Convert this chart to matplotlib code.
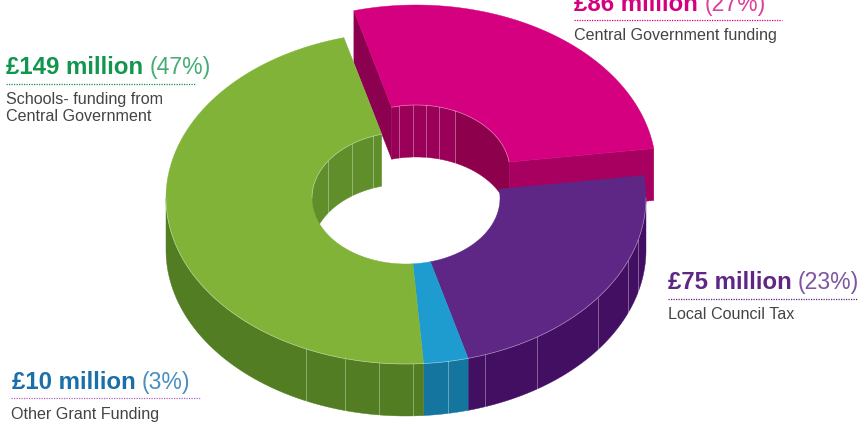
import numpy as np
import matplotlib
matplotlib.use('Agg')
import matplotlib.pyplot as plt

plt.rcParams['font.family'] = ['Liberation Sans', 'DejaVu Sans']

# slices, clockwise from the pink one
names = ['Central Government funding', 'Local Council Tax', 'Other Grant Funding', 'Schools']
percents = [27, 23, 3, 47]
millions = [86, 75, 10, 149]
tops = ['#d5007f', '#5e2785', '#1e9cd0', '#80b338']
outer_walls = ['#a80060', '#420f62', '#14759f', '#527d22']
inner_walls = ['#9a0058', '#420f62', '#14759f', '#5f8e2b']
cut_walls = ['#a80060', '#420f62', '#14759f', '#527d22']

# facet seams on the walls, in degrees
pink_seams = [-10.4, -1.7, 6, 14, 24.5]
green_inner_seams = [-56, -35, -20.5]
green_outer_seams = [178.3, 186.5, 194.7, 204.6]
blue_seams = [170]
purple_seams = [104.8, 112.4, 126.9, 146.9, 160.8]

CX, CY = 406, 198
RX, RY = 240, 166
IRX, IRY = 94, 66
DEPTH = 52
START = -15
PINK_SHIFT = (10, -27)


def arc(cx, cy, rx, ry, a0, a1):
    t = np.radians(np.linspace(a0, a1, max(int(abs(a1 - a0) * 2), 2)))
    return cx + rx * np.sin(t), cy - ry * np.cos(t)


def wall(ax, cx, cy, rx, ry, a0, a1, color):
    # extruded strip under an elliptical edge
    if a1 <= a0:
        return
    x, y = arc(cx, cy, rx, ry, a0, a1)
    ax.fill(np.r_[x, x[::-1]], np.r_[y, y[::-1] + DEPTH], color=color, lw=0.3)
    ax.plot(x, y, color='white', alpha=0.45, lw=0.5)


def seams(ax, cx, cy, rx, ry, angles):
    for a in angles:
        x, y = arc(cx, cy, rx, ry, a, a)
        ax.plot([x[0], x[0]], [y[0], y[0] + DEPTH], color='white', alpha=0.35, lw=0.7)


def cut(ax, cx, cy, a, color):
    x0, y0 = arc(cx, cy, IRX, IRY, a, a)
    x1, y1 = arc(cx, cy, RX, RY, a, a)
    ax.fill([x0[0], x1[0], x1[0], x0[0]],
            [y0[0], y1[0], y1[0] + DEPTH, y0[0] + DEPTH], color=color, lw=0.3)


def top(ax, cx, cy, a0, a1, color):
    xo, yo = arc(cx, cy, RX, RY, a0, a1)
    xi, yi = arc(cx, cy, IRX, IRY, a0, a1)
    ax.fill(np.r_[xo, xi[::-1]], np.r_[yo, yi[::-1]], color=color, lw=0.3)


fig = plt.figure(figsize=(8.63, 4.24), dpi=100)
ax = fig.add_axes([0, 0, 1, 1])
ax.set_xlim(0, 863)
ax.set_ylim(424, 0)
ax.axis('off')

edges = START + np.cumsum([0] + percents) * 3.6

# pink slice is pulled out and sits behind everything else
px, py = CX + PINK_SHIFT[0], CY + PINK_SHIFT[1]
a0, a1 = edges[0], edges[1]
cut(ax, px, py, a0, '#8c0050')
wall(ax, px, py, IRX, IRY, a0, pink_seams[-1], inner_walls[0])
wall(ax, px, py, IRX, IRY, pink_seams[-1], a1, '#8c004c')
seams(ax, px, py, IRX, IRY, pink_seams)
cut(ax, px, py, a1, cut_walls[0])
top(ax, px, py, a0, a1, tops[0])

# green inner wall goes next, it is seen through the hole
g0, g1 = edges[3], edges[4]
wall(ax, CX, CY, IRX, IRY, 270, g1, inner_walls[3])
seams(ax, CX, CY, IRX, IRY, green_inner_seams)

# outer walls on the front half only
for i in [1, 2, 3]:
    wall(ax, CX, CY, RX, RY, max(edges[i], 90), min(edges[i + 1], 270), outer_walls[i])
seams(ax, CX, CY, RX, RY, purple_seams + blue_seams + green_outer_seams)

for i in [1, 2, 3]:
    top(ax, CX, CY, edges[i], edges[i + 1], tops[i])

# labels: bold amount, light share, dotted rule, description
labels = [
    dict(x=6, y=74, amount='£149 million', share='(47%)', sx=150, rule=(6, 195, 84), rc='#10964d',
         color='#10964d', light='#45ad73', desc=['Schools- funding from', 'Central Government'], dy=[104, 121]),
    dict(x=574, y=11, amount='£86 million', share='(27%)', sx=705, rule=(574, 782, 20), rc='#d5007f',
         color='#d5007f', light='#dd3f9c', desc=['Central Government funding'], dy=[40]),
    dict(x=668, y=289, amount='£75 million', share='(23%)', sx=798, rule=(668, 858, 299), rc='#5e2785',
         color='#5e2785', light='#7f55a0', desc=['Local Council Tax'], dy=[319]),
    dict(x=12, y=389, amount='£10 million', share='(3%)', sx=142, rule=(11, 201, 398), rc='#a868b8',
         color='#1a6fa8', light='#4a8fbf', desc=['Other Grant Funding'], dy=[419]),
]
for lab in labels:
    ax.text(lab['x'], lab['y'], lab['amount'], fontsize=17.3, fontweight='bold', color=lab['color'], va='baseline')
    ax.text(lab['sx'], lab['y'], lab['share'], fontsize=16.6, color=lab['light'], va='baseline')
    x0, x1, ry = lab['rule']
    ax.plot([x0, x1], [ry, ry], color=lab['rc'], lw=0.9, ls=(0, (1, 1)))
    for line, yy in zip(lab['desc'], lab['dy']):
        ax.text(lab['rule'][0], yy, line, fontsize=11.6, color='#444444', va='baseline')

fig.savefig('out.png', dpi=100)
